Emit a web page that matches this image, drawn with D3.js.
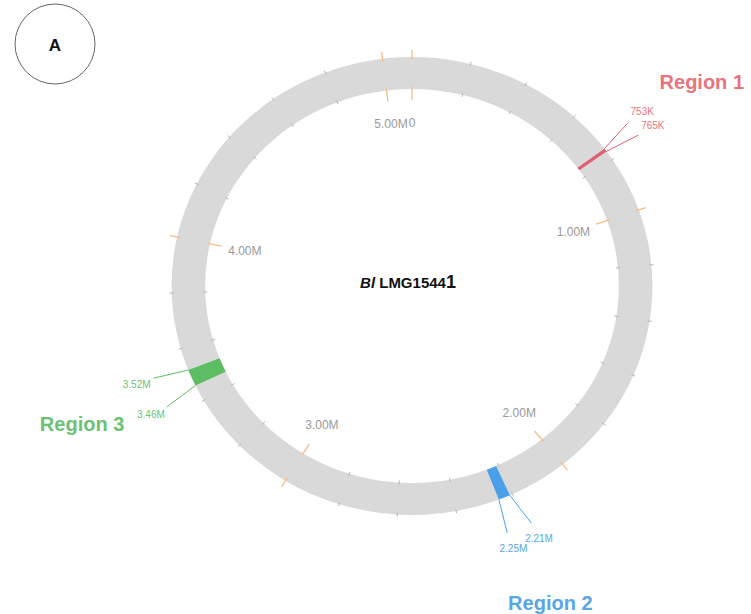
<!DOCTYPE html>
<html>
<head>
<meta charset="utf-8">
<script src="https://cdn.jsdelivr.net/npm/d3@7"></script>
<style>
  html, body { margin: 0; padding: 0; background: #fff; }
  svg { display: block; }
</style>
</head>
<body>
<svg id="chart" width="751" height="614"></svg>
<script>
// Genome and axis definition
const genomeLength = 5100000;
const majorTicks = [0, 1000000, 2000000, 3000000, 4000000, 5000000];
const majorTickLabels = ["0", "1.00M", "2.00M", "3.00M", "4.00M", "5.00M"];
const minorTicks = [200000, 400000, 600000, 800000, 1200000, 1400000, 1600000, 1800000,
  2200000, 2400000, 2600000, 2800000, 3200000, 3400000, 3600000, 3800000,
  4200000, 4400000, 4600000, 4800000];

// Highlighted regions
const regionNames = ["Region 1", "Region 2", "Region 3"];
const regionStarts = [753000, 2210000, 3460000];
const regionEnds = [765000, 2250000, 3520000];
const regionStartLabels = ["753K", "2.21M", "3.46M"];
const regionEndLabels = ["765K", "2.25M", "3.52M"];

const titleItalic = "Bl";
const titleRest = " LMG1544";
const titleLast = "1";
const panelLetter = "A";

// Styling
const regionBandColors = ["#e0606f", "#4aa0e8", "#5dbd63"];
const regionTextColors = ["#e8737d", "#58a6e6", "#6cc172"];
const ringColor = "#d9d9d9";

const svg = d3.select("#chart");
const cx = 412, cy = 286, sx = 1.05;
const R = 229, r0 = 197;

const angle = d3.scaleLinear().domain([0, genomeLength]).range([0, 2 * Math.PI]);
const pt = (a, r) => [cx + sx * r * Math.sin(a), cy - r * Math.cos(a)];
const deg = d => d * Math.PI / 180;

// Ring and region bands (drawn in a slightly widened frame)
const ringG = svg.append("g").attr("transform", `translate(${cx},${cy}) scale(${sx},1)`);
ringG.append("path")
  .attr("d", d3.arc()({innerRadius: r0, outerRadius: R, startAngle: 0, endAngle: 2 * Math.PI}))
  .attr("fill", ringColor);

regionNames.forEach((name, i) => {
  ringG.append("path")
    .attr("d", d3.arc()({innerRadius: r0, outerRadius: R,
      startAngle: angle(regionStarts[i]), endAngle: angle(regionEnds[i])}))
    .attr("fill", regionBandColors[i]);
});

// Minor ticks on both edges
const tickG = svg.append("g");
minorTicks.forEach(v => {
  const a = angle(v);
  [[R - 2, R + 2], [r0 + 2, r0 - 2]].forEach(([ra, rb]) => {
    const p1 = pt(a, ra), p2 = pt(a, rb);
    tickG.append("line")
      .attr("x1", p1[0]).attr("y1", p1[1]).attr("x2", p2[0]).attr("y2", p2[1])
      .attr("stroke", "#b4b4b4").attr("stroke-width", 1);
  });
});

// Major ticks (outer and inner)
majorTicks.forEach((v, i) => {
  const a = angle(v);
  [[R - 3, R + 7], [r0 + 2, r0 - 11]].forEach(([ra, rb]) => {
    const p1 = pt(a, ra), p2 = pt(a, rb);
    tickG.append("line")
      .attr("x1", p1[0]).attr("y1", p1[1]).attr("x2", p2[0]).attr("y2", p2[1])
      .attr("stroke", "#f4bd86").attr("stroke-width", 1.3);
  });
  const lp = pt(a, 163);
  tickG.append("text")
    .attr("x", lp[0]).attr("y", lp[1])
    .attr("text-anchor", "middle").attr("dominant-baseline", "central")
    .attr("font-family", "Liberation Sans, Arial, sans-serif")
    .attr("font-size", 12).attr("fill", "#999")
    .text(majorTickLabels[i]);
});

// Region leader lines and labels
const regG = svg.append("g").attr("font-family", "Liberation Sans, Arial, sans-serif");
regionNames.forEach((name, i) => {
  const aS = angle(regionStarts[i]), aE = angle(regionEnds[i]);
  const sides = [
    {a: aS, off: deg(-1.6), label: regionStartLabels[i]},
    {a: aE, off: deg(1.0), label: regionEndLabels[i]}
  ];
  sides.forEach(s => {
    const p1 = pt(s.a, R), p2 = pt(s.a + s.off, 263), lp = pt(s.a + s.off, 280);
    regG.append("line")
      .attr("x1", p1[0]).attr("y1", p1[1]).attr("x2", p2[0]).attr("y2", p2[1])
      .attr("stroke", regionBandColors[i]).attr("stroke-width", 1);
    regG.append("text")
      .attr("x", lp[0]).attr("y", lp[1])
      .attr("text-anchor", "middle").attr("dominant-baseline", "central")
      .attr("font-size", 10).attr("fill", regionTextColors[i])
      .text(s.label);
  });
  const np = pt((aS + aE) / 2, 343);
  regG.append("text")
    .attr("x", np[0]).attr("y", np[1])
    .attr("text-anchor", "middle").attr("dominant-baseline", "central")
    .attr("font-size", 20).attr("font-weight", "bold")
    .attr("fill", regionTextColors[i])
    .text(name);
});

// Centre title
const title = svg.append("text")
  .attr("x", cx - 4).attr("y", cy - 4)
  .attr("text-anchor", "middle").attr("dominant-baseline", "central")
  .attr("font-family", "Liberation Sans, Arial, sans-serif")
  .attr("font-size", 15).attr("font-weight", "bold").attr("fill", "#111");
title.append("tspan").attr("font-style", "italic").text(titleItalic);
title.append("tspan").text(titleRest);
title.append("tspan").attr("font-size", 18).text(titleLast);

// Panel letter
svg.append("circle").attr("cx", 55).attr("cy", 44).attr("r", 40)
  .attr("fill", "none").attr("stroke", "#666").attr("stroke-width", 1);
svg.append("text").attr("x", 55).attr("y", 45)
  .attr("text-anchor", "middle").attr("dominant-baseline", "central")
  .attr("font-family", "Liberation Sans, Arial, sans-serif")
  .attr("font-size", 17).attr("font-weight", "bold").attr("fill", "#111")
  .text(panelLetter);
</script>
</body>
</html>
